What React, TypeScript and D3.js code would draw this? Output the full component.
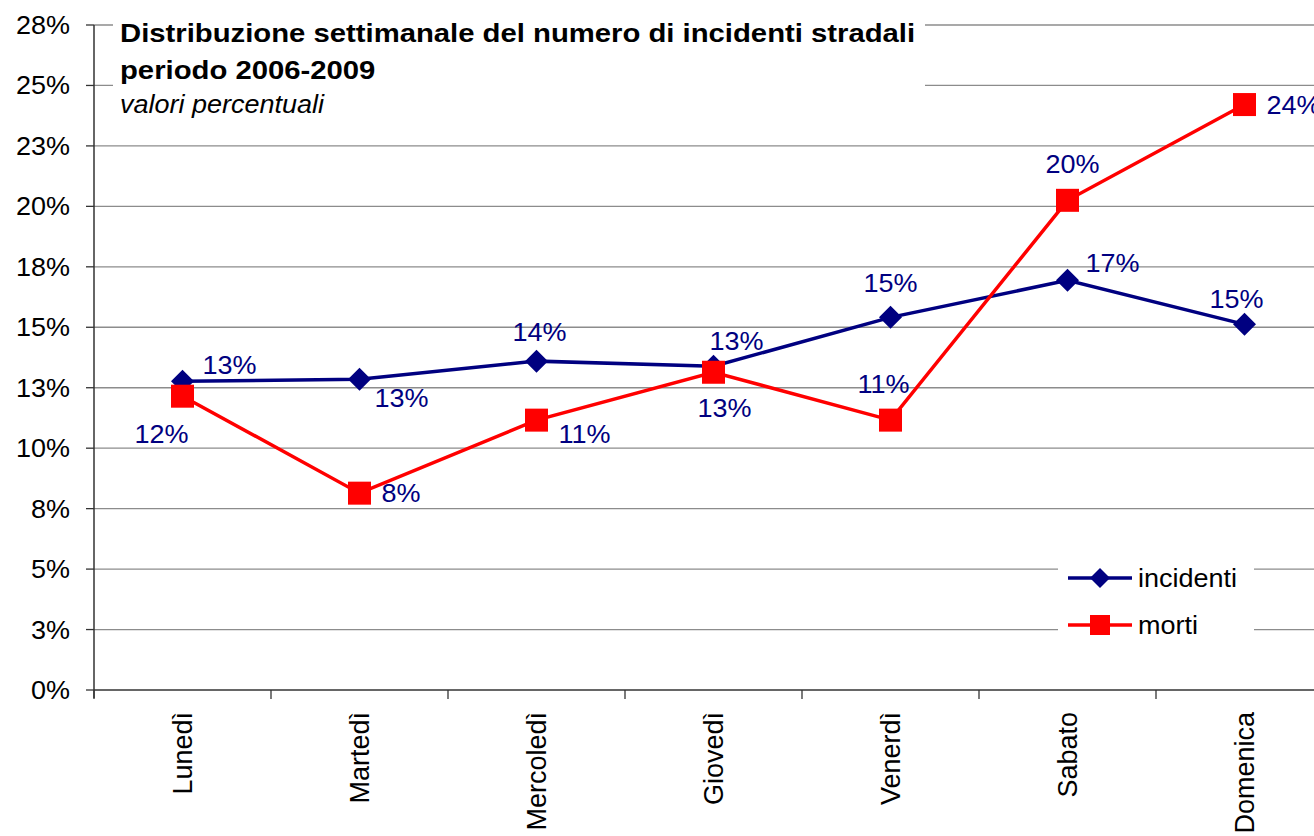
import React from "react";
import * as d3 from "d3";

const days = ["Lunedì", "Martedì", "Mercoledì", "Giovedì", "Venerdì", "Sabato", "Domenica"];
const incidenti = [12.77, 12.85, 13.6, 13.39, 15.41, 16.94, 15.12];
const morti = [12.15, 8.14, 11.16, 13.14, 11.16, 20.25, 24.21];
const yTicks = [0, 2.5, 5, 7.5, 10, 12.5, 15, 17.5, 20, 22.5, 25, 27.5];
const incidentiLabels = ["13%", "13%", "14%", "13%", "15%", "17%", "15%"];
const mortiLabels = ["12%", "8%", "11%", "13%", "11%", "20%", "24%"];

// label offsets (style)
const incOff = [[20, -7, "start"], [15, 28, "start"], [3, -20, "middle"], [-4, -16, "start"], [0, -25, "middle"], [18, -8, "start"], [-8, -16, "middle"]];
const morOff = [[6, 47, "end"], [22, 9, "start"], [22, 23, "start"], [11, 45, "middle"], [-7, -27, "middle"], [5, -27, "middle"], [22, 9, "start"]];

const SX = 1.08;

function HText(props: { x: number; y: number; anchor?: string; size: number; fill: string; bold?: boolean; italic?: boolean; sx?: number; children: string }) {
  return (
    <text
      transform={`translate(${props.x},${props.y}) scale(${props.sx || SX},1)`}
      textAnchor={props.anchor || "start"}
      fontSize={props.size}
      fontWeight={props.bold ? "bold" : "normal"}
      fontStyle={props.italic ? "italic" : "normal"}
      fill={props.fill}
    >
      {props.children}
    </text>
  );
}

export default function App() {
  const W = 1314, H = 836;
  const x = d3.scaleBand<string>().domain(days).range([94, 1333]);
  const y = d3.scaleLinear().domain([0, 27.5]).range([690, 25]);
  const cx = (d: string) => (x(d) as number) + x.bandwidth() / 2;
  const line = d3.line<number>().x((_, i) => cx(days[i])).y((v) => y(v));
  const diamond = (px: number, py: number, r: number) => `M${px},${py - r}L${px + r},${py}L${px},${py + r}L${px - r},${py}Z`;
  const font = "Liberation Sans, Arial, sans-serif";
  const navy = "#000080";
  return (
    <svg width={W} height={H} style={{ position: "absolute", left: 0, top: 0, background: "#fff" }} fontFamily={font}>
      {yTicks.map((t) => (
        <g key={t}>
          {t > 0 && <line x1={94} x2={W} y1={y(t)} y2={y(t)} stroke="#8c8c8c" strokeWidth={1.3} />}
          <line x1={86} x2={94} y1={y(t)} y2={y(t)} stroke="#333" strokeWidth={1.3} />
          <HText x={70} y={y(t) + 9} anchor="end" size={25} fill="#000">{`${Math.round(t)}%`}</HText>
        </g>
      ))}
      <line x1={94} x2={94} y1={25} y2={698} stroke="#333" strokeWidth={1.5} />
      <line x1={94} x2={W} y1={690} y2={690} stroke="#333" strokeWidth={1.5} />
      {days.map((d) => (
        <g key={d}>
          <line x1={x(d) as number} x2={x(d) as number} y1={690} y2={699} stroke="#333" strokeWidth={1.3} />
          <text transform={`translate(${cx(d) + 9},712) rotate(-90)`} textAnchor="end" fontSize={27} fill="#000">{d}</text>
        </g>
      ))}
      {/* title box */}
      <rect x={113} y={14} width={812} height={112} fill="#fff" />
      <HText x={120} y={42} size={26.5} sx={1.105} bold fill="#000">Distribuzione settimanale del numero di incidenti stradali</HText>
      <HText x={120} y={79} size={26.5} sx={1.105} bold fill="#000">periodo 2006-2009</HText>
      <HText x={120} y={113} size={25} italic fill="#000">valori percentuali</HText>
      {/* lines */}
      <path d={line(incidenti) || ""} fill="none" stroke={navy} strokeWidth={3.5} />
      <path d={line(morti) || ""} fill="none" stroke="#ff0000" strokeWidth={3.5} />
      {incidenti.map((v, i) => (
        <path key={i} d={diamond(cx(days[i]), y(v), 11.5)} fill={navy} />
      ))}
      {morti.map((v, i) => (
        <rect key={i} x={cx(days[i]) - 11.5} y={y(v) - 11.5} width={23} height={23} fill="#ff0000" />
      ))}
      {incidenti.map((v, i) => (
        <HText key={i} x={cx(days[i]) + (incOff[i][0] as number)} y={y(v) + (incOff[i][1] as number)} anchor={incOff[i][2] as string} size={25} fill={navy}>{incidentiLabels[i]}</HText>
      ))}
      {morti.map((v, i) => (
        <HText key={i} x={cx(days[i]) + (morOff[i][0] as number)} y={y(v) + (morOff[i][1] as number)} anchor={morOff[i][2] as string} size={25} fill={navy}>{mortiLabels[i]}</HText>
      ))}
      {/* legend */}
      <rect x={1058} y={553} width={196} height={96} fill="#fff" />
      <line x1={1068} x2={1132} y1={578} y2={578} stroke={navy} strokeWidth={3.5} />
      <path d={diamond(1100, 578, 10)} fill={navy} />
      <HText x={1138} y={587} size={25} fill="#000">incidenti</HText>
      <line x1={1068} x2={1132} y1={625} y2={625} stroke="#ff0000" strokeWidth={3.5} />
      <rect x={1090} y={615} width={20} height={20} fill="#ff0000" />
      <HText x={1138} y={634} size={25} fill="#000">morti</HText>
    </svg>
  );
}
